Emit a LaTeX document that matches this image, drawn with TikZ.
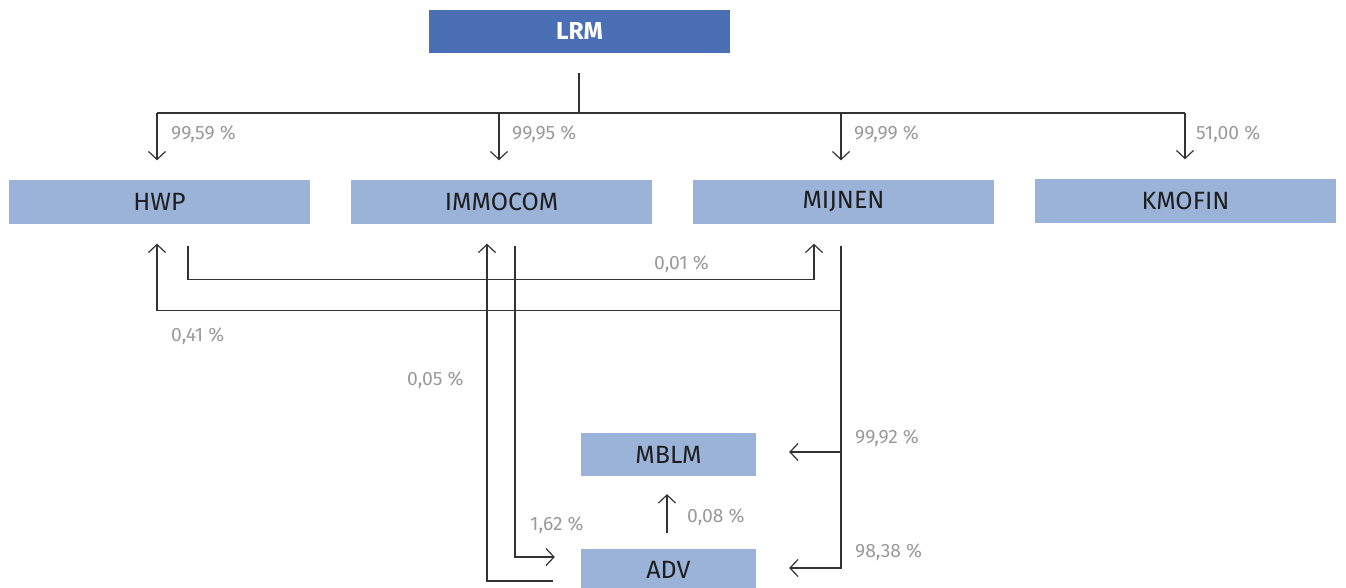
\documentclass[tikz,border=0pt]{standalone}
\usepackage{fontspec}
\setmainfont{Fira Sans}
\usetikzlibrary{arrows.meta}
\definecolor{dark}{HTML}{4A6FB5}
\definecolor{light}{HTML}{9BB3D8}
\definecolor{lbl}{HTML}{9A9A9A}
\definecolor{ln}{HTML}{333333}
\definecolor{txt}{HTML}{1E1E1E}
\begin{document}
\begin{tikzpicture}[x=1pt,y=-1pt,
  entity/.style={fill=light, minimum width=301pt, minimum height=43pt, inner sep=0pt,
    text=txt, font=\fontsize{25}{28}\selectfont},
  small/.style={entity, minimum width=175pt},
  top/.style={fill=dark, minimum width=301pt, minimum height=43pt, inner sep=0pt,
    text=white, font=\fontsize{24.5}{28}\selectfont\bfseries},
  pct/.style={anchor=west, inner sep=0pt, text=lbl, font=\fontsize{19.3}{22}\selectfont},
  conn/.style={draw=ln, line width=1.2pt},
  arr/.style={conn, -{Straight Barb[length=8pt,width=17pt,line width=1.2pt]}}]
\useasboundingbox (0,0) rectangle (1346,588);
% boxes
\node[top] (LRM) at (579.5,31.5) {LRM};
\node[entity] (HWP) at (159.5,202) {HWP};
\node[entity] (IMMOCOM) at (501.5,202) {IMMOCOM};
\node[entity] (MIJNEN) at (843.5,202) {MIJNEN};
\node[entity] (KMOFIN) at (1185.5,201) {KMOFIN};
\node[small] (MBLM) at (668.5,454.5) {MBLM};
\node[small] (ADV) at (668.5,570) {ADV};
% LRM distribution
\coordinate (b1) at (157,113);
\coordinate (b2) at (499,113);
\coordinate (b3) at (841,113);
\coordinate (b4) at (1185,113);
\draw[conn] ([yshift=-20pt]LRM.south -| 579,0) -- (579,113);
\draw[conn] (b1) -- (b4);
\foreach \n/\t in {b1/HWP,b2/IMMOCOM,b3/MIJNEN,b4/KMOFIN}
  \draw[arr, shorten >=20pt] (\n) -- (\n |- \t.north);
% HWP -> MIJNEN
\draw[arr] ([shift={(28.5,22)}]HWP.south) -- ++(0,34) -| ([shift={(-29.5,20)}]MIJNEN.south);
% MIJNEN -> HWP
\draw[arr] ([shift={(-2.5,22)}]MIJNEN.south) -- ++(0,65) -| ([shift={(-2.5,20)}]HWP.south);
% MIJNEN -> MBLM, ADV
\draw[arr] ([shift={(-2.5,22)}]MIJNEN.south) |- ([shift={(33,-2.5)}]MBLM.east);
\draw[arr] ([shift={(-2.5,22)}]MIJNEN.south) |- ([shift={(33,-2)}]ADV.east);
% IMMOCOM -> ADV
\draw[arr] ([shift={(13.5,22)}]IMMOCOM.south) |- ([shift={(-26,-13)}]ADV.west);
% ADV -> IMMOCOM
\draw[arr] ([shift={(-28,11)}]ADV.west) -| ([shift={(-14.5,20)}]IMMOCOM.south);
% ADV -> MBLM
\draw[arr] ([shift={(-1.5,-15)}]ADV.north) -- ([shift={(-1.5,18)}]MBLM.south);
% labels
\node[pct] (p1) at (171,134) {99,59 \%};
\node[pct] (p2) at (512,134) {99,95 \%};
\node[pct] (p3) at (854,134) {99,99 \%};
\node[pct] (p4) at (1196,134) {51,00 \%};
\node[pct] (p5) at (654,264) {0,01 \%};
\node[pct] (p6) at (171,336) {0,41 \%};
\node[pct] (p7) at (407,380) {0,05 \%};
\node[pct] (p8) at (855,438) {99,92 \%};
\node[pct] (p9) at (855,552) {98,38 \%};
\node[pct] (p10) at (530,525) {1,62 \%};
\node[pct] (p11) at (687,517) {0,08 \%};
\end{tikzpicture}
\end{document}
